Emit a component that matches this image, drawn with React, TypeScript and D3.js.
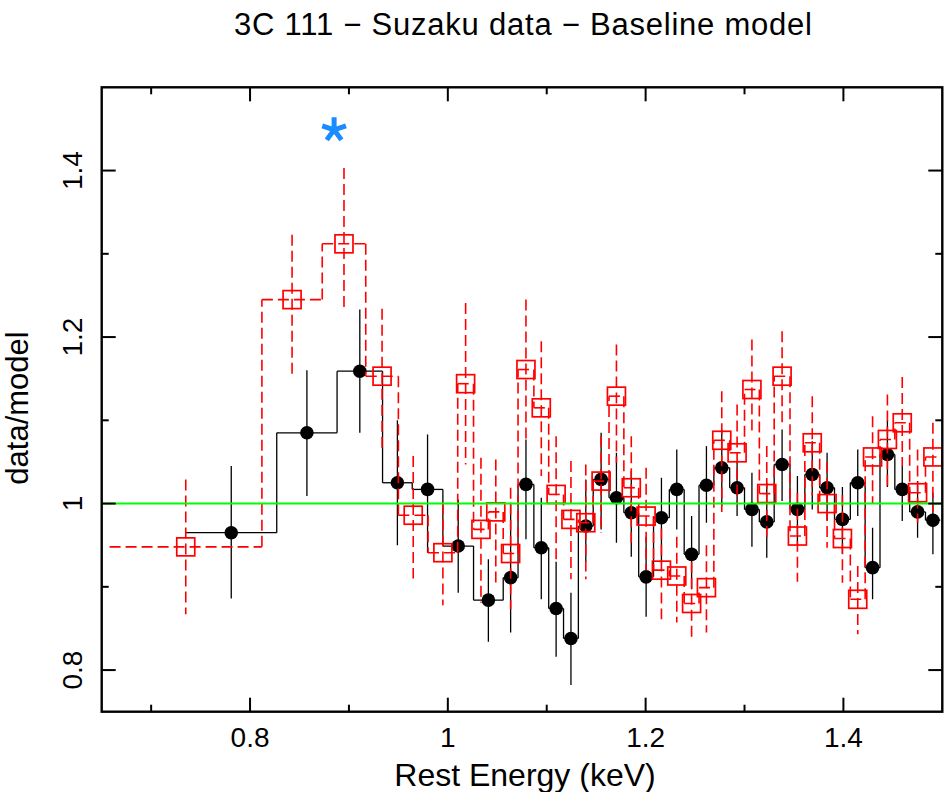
import React from "react";
import * as d3 from "d3";

// XIS (black) bins: edges, data/model ratio, error bar top & bottom
const blackEdges = [0.735, 0.827, 0.888, 0.934, 0.964, 0.995, 1.026, 1.056, 1.071, 1.087, 1.102, 1.117, 1.132, 1.147, 1.163, 1.178, 1.193, 1.208, 1.224, 1.239, 1.254, 1.269, 1.285, 1.300, 1.315, 1.330, 1.346, 1.361, 1.376, 1.391, 1.407, 1.422, 1.437, 1.452, 1.467, 1.483, 1.498];
const blackRatio = [0.965, 1.085, 1.159, 1.025, 1.017, 0.949, 0.884, 0.911, 1.023, 0.947, 0.874, 0.838, 0.973, 1.029, 1.007, 0.989, 0.912, 0.983, 1.017, 0.939, 1.022, 1.043, 1.019, 0.993, 0.978, 1.047, 0.993, 1.035, 1.019, 0.981, 1.025, 0.923, 1.059, 1.017, 0.99, 0.98];
const blackTop = [1.045, 1.160, 1.233, 1.100, 1.083, 1.005, 0.933, 1.001, 1.077, 1.007, 0.930, 0.893, 1.029, 1.085, 1.061, 1.039, 0.960, 1.031, 1.065, 0.985, 1.069, 1.089, 1.050, 1.037, 1.025, 1.089, 1.033, 1.075, 1.061, 1.020, 1.065, 0.971, 1.100, 1.045, 1.027, 1.013];
const blackBottom = [0.886, 1.009, 1.085, 0.950, 0.941, 0.893, 0.834, 0.845, 0.957, 0.885, 0.816, 0.782, 0.930, 0.969, 0.953, 0.936, 0.864, 0.929, 0.969, 0.897, 0.977, 0.997, 0.985, 0.948, 0.935, 1.003, 0.950, 0.993, 0.980, 0.940, 0.985, 0.885, 1.020, 0.979, 0.959, 0.939];

// red bins
const redEdges = [0.658, 0.812, 0.873, 0.917, 0.950, 0.980, 1.010, 1.026, 1.041, 1.056, 1.071, 1.087, 1.102, 1.117, 1.132, 1.147, 1.163, 1.178, 1.193, 1.208, 1.224, 1.239, 1.254, 1.269, 1.285, 1.300, 1.315, 1.330, 1.346, 1.361, 1.376, 1.391, 1.407, 1.422, 1.437, 1.452, 1.467, 1.483, 1.498];
const redRatio = [0.948, 1.245, 1.312, 1.153, 0.986, 0.941, 1.144, 0.969, 0.990, 0.940, 1.161, 1.115, 1.011, 0.981, 0.977, 1.027, 1.129, 1.019, 0.985, 0.920, 0.913, 0.880, 0.899, 1.076, 1.061, 1.137, 1.012, 1.153, 0.961, 1.073, 1.000, 0.958, 0.885, 1.056, 1.077, 1.097, 1.013, 1.056];
const redTop = [1.029, 1.323, 1.403, 1.234, 1.057, 1.000, 1.241, 1.055, 1.053, 1.019, 1.245, 1.195, 1.081, 1.051, 1.047, 1.081, 1.191, 1.081, 1.043, 0.970, 0.960, 0.930, 0.950, 1.135, 1.119, 1.197, 1.069, 1.207, 1.013, 1.129, 1.050, 1.010, 0.925, 1.105, 1.131, 1.152, 1.065, 1.097];
const redBottom = [0.867, 1.155, 1.236, 1.061, 0.910, 0.878, 1.047, 0.881, 0.905, 0.873, 1.076, 1.033, 0.929, 0.909, 0.909, 0.965, 1.049, 0.953, 0.920, 0.861, 0.857, 0.840, 0.845, 0.990, 1.001, 1.085, 0.960, 1.093, 0.906, 1.010, 0.947, 0.905, 0.843, 1.000, 1.020, 1.045, 0.977, 0.990];

const xMajor = [0.8, 1.0, 1.2, 1.4];
const xMinor = [0.7, 0.9, 1.1, 1.3];
const xLabels = ["0.8", "1", "1.2", "1.4"];
const yMajor = [0.8, 1.0, 1.2, 1.4];
const yMinor = [0.9, 1.1, 1.3];
const yLabels = ["0.8", "1", "1.2", "1.4"];

const starEnergy = 0.885;
const starRatio = 1.449;

const FONT = "'Liberation Sans', Arial, Helvetica, sans-serif";

export default function App() {
  const x = d3.scaleLinear().domain([0.65, 1.5]).range([101.7, 942.3]);
  const y = d3.scaleLinear().domain([0.75, 1.5]).range([711.7, 87.3]);
  const [x0, x1] = x.range();
  const [y0, y1] = y.range();

  const series = (edges: number[], ratio: number[], top: number[], bot: number[], color: string, dash: string | undefined, sw: number, key: string) => {
    const parts: any[] = [];
    ratio.forEach((r, i) => {
      const lo = edges[i], hi = edges[i + 1];
      const c = (lo + hi) / 2;
      parts.push(<line key={key + "h" + i} x1={x(lo)} x2={x(hi)} y1={y(r)} y2={y(r)} stroke={color} strokeWidth={sw} strokeDasharray={dash} />);
      parts.push(<line key={key + "v" + i} x1={x(c)} x2={x(c)} y1={y(top[i])} y2={y(bot[i])} stroke={color} strokeWidth={sw} strokeDasharray={dash} />);
      if (i > 0) {
        parts.push(<line key={key + "s" + i} x1={x(lo)} x2={x(lo)} y1={y(ratio[i - 1])} y2={y(r)} stroke={color} strokeWidth={sw} strokeDasharray={dash} />);
      }
    });
    return parts;
  };

  const sx = x(starEnergy), sy = y(starRatio);
  const arm = 12.5;
  const starPath = d3.range(5).map((k) => {
    const a = (k * 72 * Math.PI) / 180;
    return `M${sx},${sy}L${sx + arm * Math.sin(a)},${sy - arm * Math.cos(a)}`;
  }).join("");

  return (
    <svg width={945} height={792} style={{ position: "absolute", left: 0, top: 0, background: "#fff" }} fontFamily={FONT}>
      <defs>
        <clipPath id="plotclip">
          <rect x={x0} y={y1} width={x1 - x0} height={y0 - y1} />
        </clipPath>
      </defs>
      <rect width={945} height={792} fill="#fff" />
      <text x={523} y={35} fontSize={31} textAnchor="middle" fill="#000" textLength={578} lengthAdjust="spacing">3C 111 − Suzaku data − Baseline model</text>

      <g clipPath="url(#plotclip)">
        {series(blackEdges, blackRatio, blackTop, blackBottom, "#000", undefined, 1.3, "b")}
        {blackRatio.map((r, i) => (
          <circle key={"bc" + i} cx={x((blackEdges[i] + blackEdges[i + 1]) / 2)} cy={y(r)} r={6.8} fill="#000" />
        ))}
        {series(redEdges, redRatio, redTop, redBottom, "#ff0000", "11,5", 1.6, "r")}
        {redRatio.map((r, i) => (
          <rect key={"rs" + i} x={x((redEdges[i] + redEdges[i + 1]) / 2) - 9} y={y(r) - 9} width={18} height={18} fill="none" stroke="#ff0000" strokeWidth={1.7} />
        ))}
        <line x1={x0} x2={x1} y1={y(1)} y2={y(1)} stroke="#00ff00" strokeWidth={2} />
      </g>

      <path d={starPath} stroke="#1a8cff" strokeWidth={5} fill="none" />

      {/* frame */}
      <rect x={x0} y={y1} width={x1 - x0} height={y0 - y1} fill="none" stroke="#000" strokeWidth={2.4} />
      {xMajor.map((v) => (
        <g key={"xM" + v}>
          <line x1={x(v)} x2={x(v)} y1={y0} y2={y0 - 14} stroke="#000" strokeWidth={2} />
          <line x1={x(v)} x2={x(v)} y1={y1} y2={y1 + 14} stroke="#000" strokeWidth={2} />
        </g>
      ))}
      {xMinor.map((v) => (
        <g key={"xm" + v}>
          <line x1={x(v)} x2={x(v)} y1={y0} y2={y0 - 7} stroke="#000" strokeWidth={2} />
          <line x1={x(v)} x2={x(v)} y1={y1} y2={y1 + 7} stroke="#000" strokeWidth={2} />
        </g>
      ))}
      {yMajor.map((v) => (
        <g key={"yM" + v}>
          <line x1={x0} x2={x0 + 14} y1={y(v)} y2={y(v)} stroke="#000" strokeWidth={2} />
          <line x1={x1} x2={x1 - 14} y1={y(v)} y2={y(v)} stroke="#000" strokeWidth={2} />
        </g>
      ))}
      {yMinor.map((v) => (
        <g key={"ym" + v}>
          <line x1={x0} x2={x0 + 7} y1={y(v)} y2={y(v)} stroke="#000" strokeWidth={2} />
          <line x1={x1} x2={x1 - 7} y1={y(v)} y2={y(v)} stroke="#000" strokeWidth={2} />
        </g>
      ))}
      {xMajor.map((v, i) => (
        <text key={"xl" + v} x={x(v)} y={747} fontSize={28} textAnchor="middle" fill="#000">{xLabels[i]}</text>
      ))}
      {yMajor.map((v, i) => (
        <text key={"yl" + v} transform={`translate(82,${y(v)}) rotate(-90)`} fontSize={28} textAnchor="middle" fill="#000">{yLabels[i]}</text>
      ))}
      <text x={525} y={786} fontSize={32} textAnchor="middle" fill="#000">Rest Energy (keV)</text>
      <text transform={`translate(28,408) rotate(-90)`} fontSize={31} textAnchor="middle" fill="#000">data/model</text>
    </svg>
  );
}
